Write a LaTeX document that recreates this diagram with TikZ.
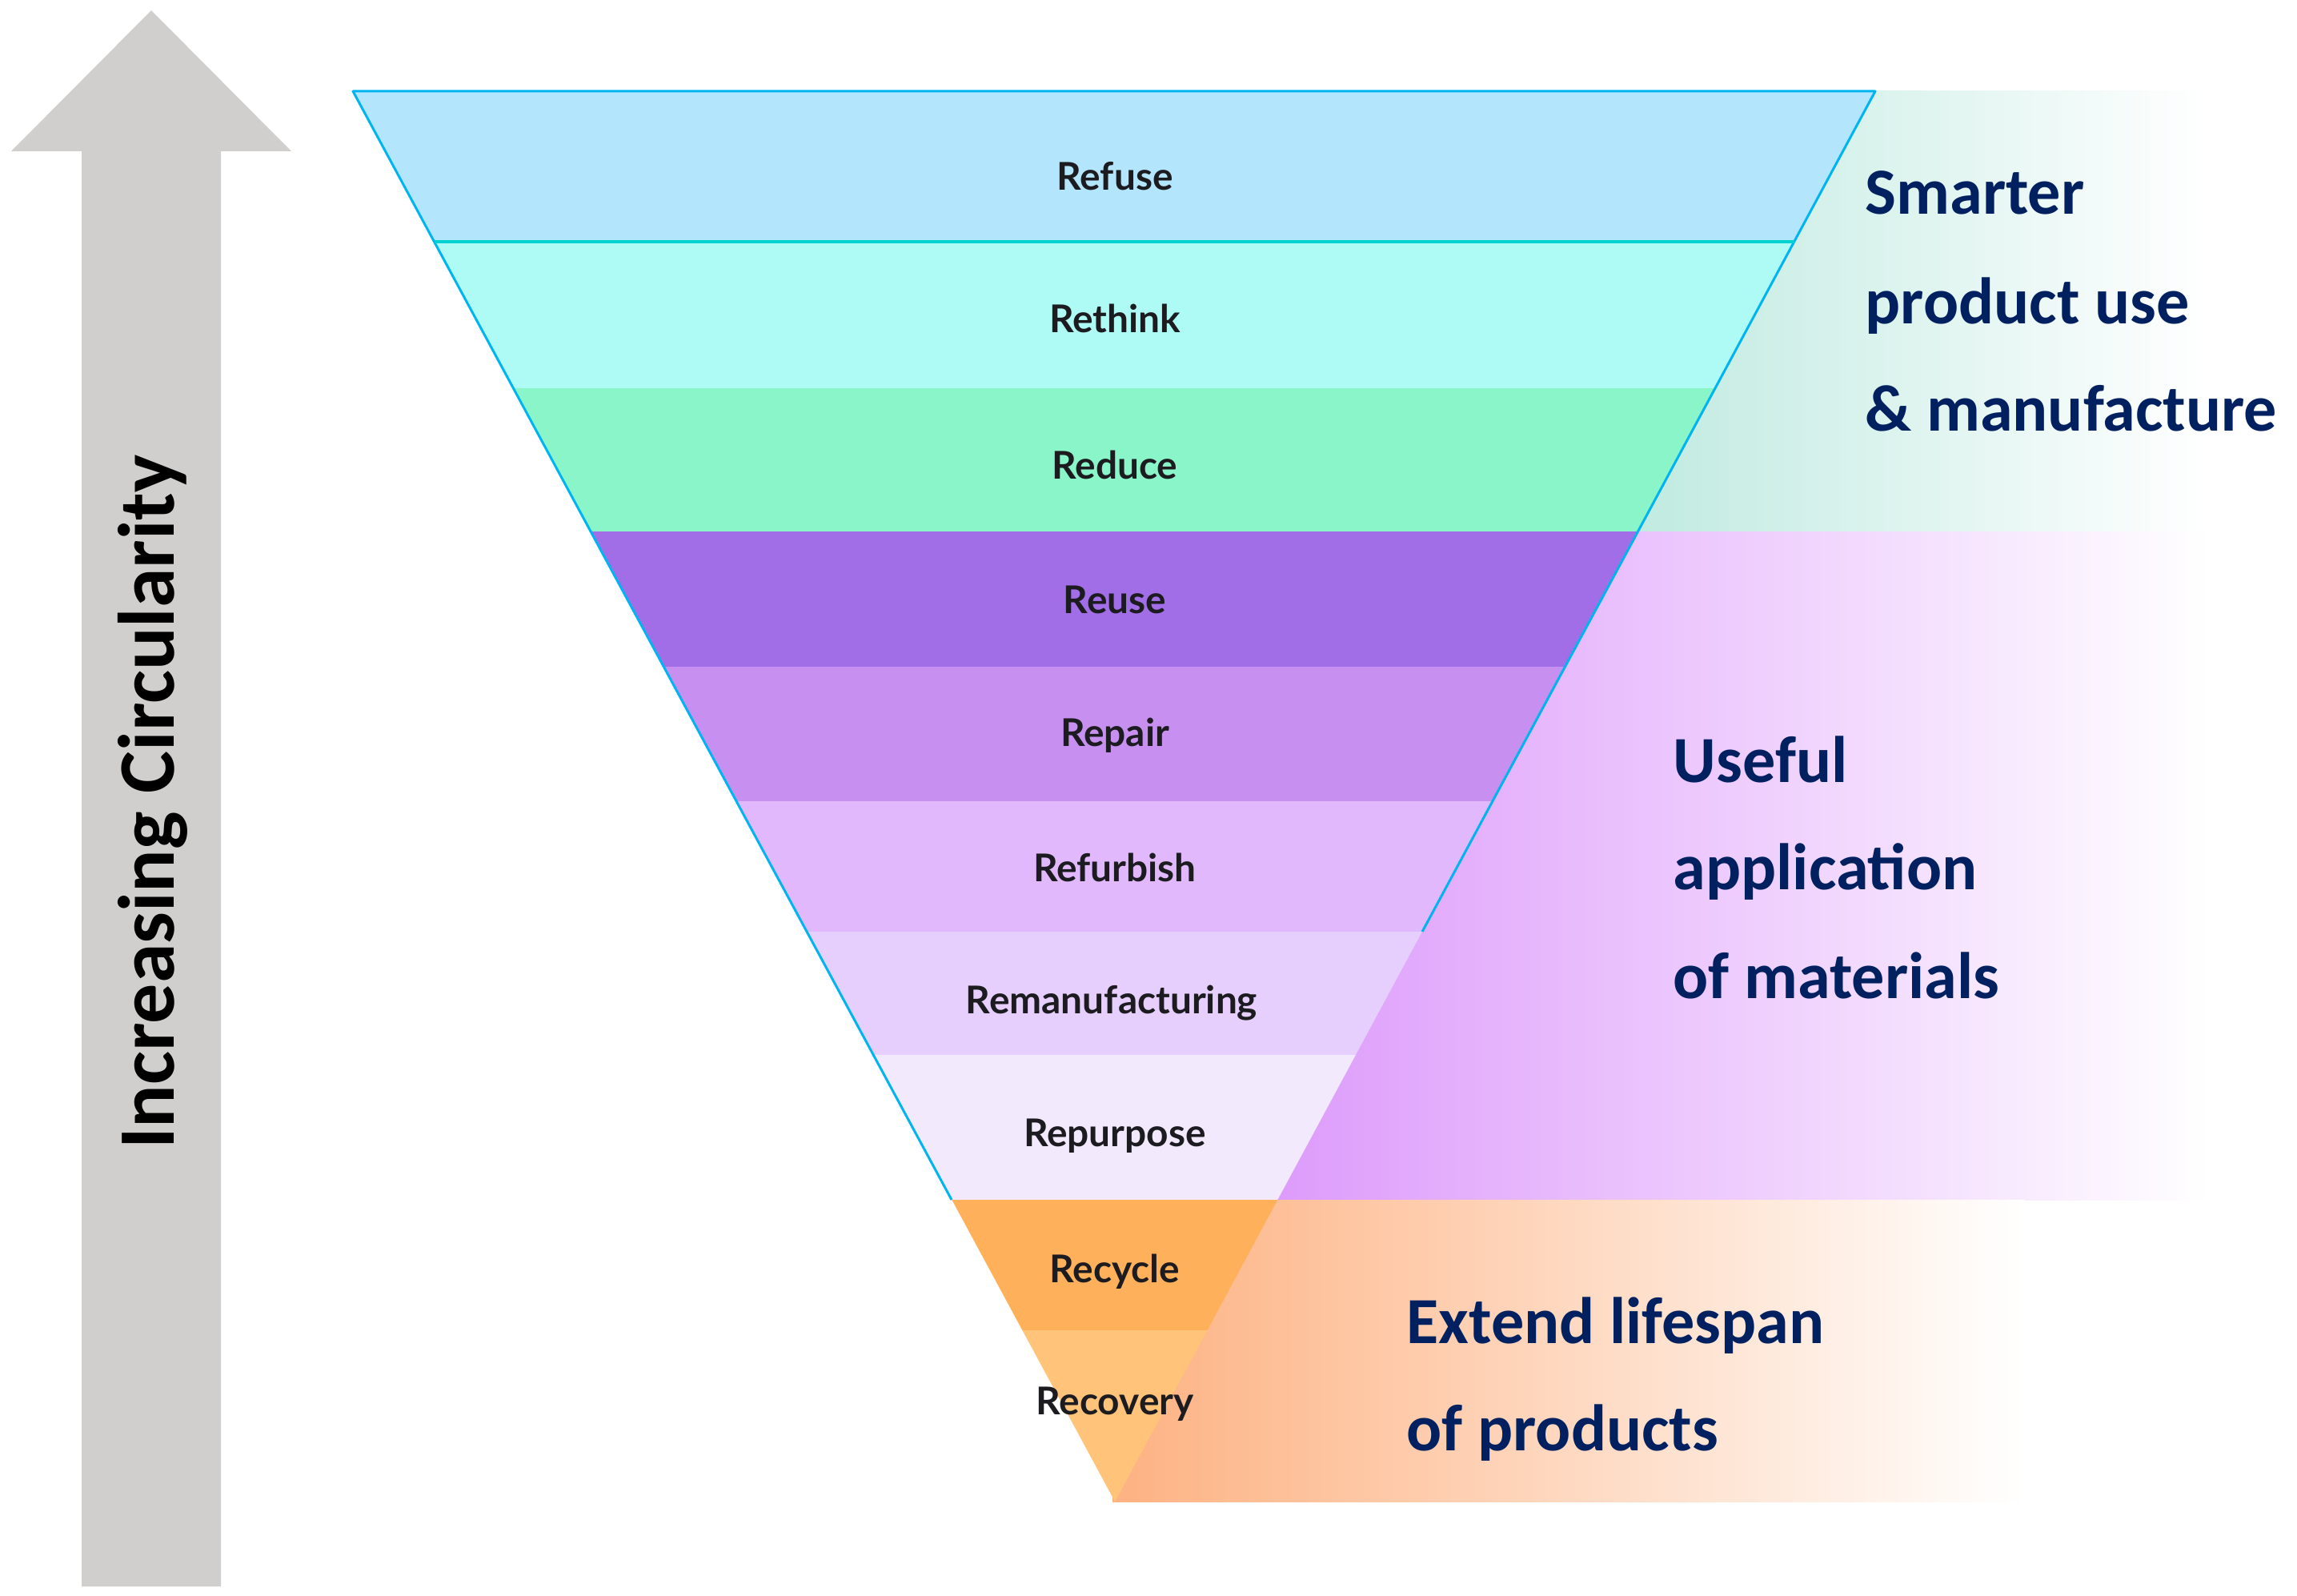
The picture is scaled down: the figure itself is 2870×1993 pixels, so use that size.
\documentclass[tikz,border=0pt]{standalone}
\usepackage{fontspec}
\setmainfont{Carlito}
\newfontfamily\labelfont{Lato}
\definecolor{arrowgray}{RGB}{208,207,206}
\definecolor{navy}{RGB}{0,32,96}
\definecolor{lblcol}{RGB}{28,28,32}
\definecolor{cRefuse}{RGB}{179,229,252}
\definecolor{cRethink}{RGB}{174,250,244}
\definecolor{cReduce}{RGB}{138,245,200}
\definecolor{cReuse}{RGB}{162,110,232}
\definecolor{cRepair}{RGB}{199,143,239}
\definecolor{cRefurbish}{RGB}{226,184,253}
\definecolor{cReman}{RGB}{230,206,253}
\definecolor{cRepurpose}{RGB}{243,233,253}
\definecolor{cRecycle}{RGB}{255,176,90}
\definecolor{cRecovery}{RGB}{255,196,122}
\definecolor{tealband}{RGB}{192,234,224}
\definecolor{purpband}{RGB}{221,155,251}
\definecolor{orangeband}{RGB}{253,178,130}
\definecolor{cyanline}{RGB}{0,180,240}
\definecolor{tealline}{RGB}{0,210,210}
\begin{document}
\begin{tikzpicture}[x=0.1mm,y=-0.1mm,
  lbl/.style={font=\labelfont\bfseries\fontsize{13.6}{16}\selectfont, text=lblcol, anchor=base, inner sep=0pt},
  side/.style={font=\bfseries\fontsize{23.4}{28}\selectfont, text=navy, anchor=base west, inner sep=0pt}]
\useasboundingbox (0,0) rectangle (2870,1993);
\fill[white] (0,0) rectangle (2870,1993);
% big arrow
\fill[arrowgray] (189,13) -- (364,189) -- (276,189) -- (276,1982) -- (102,1982) -- (102,189) -- (14,189) -- cycle;
\node[rotate=90, anchor=base, inner sep=0pt, font=\bfseries\fontsize{28.45}{34}\selectfont] (circ) at (217,1002) {Increasing Circularity};
% side bands
\fill[left color=tealband, right color=white] (2040,114) rectangle (2760,664);
\fill[left color=purpband, right color=white] (1590,664) rectangle (2760,1499);
\fill[left color=orangeband, right color=white] (1390,1499) rectangle (2530,1876);
% funnel
\begin{scope}
\clip (441,114) -- (2343,114) -- (1393,1876) -- cycle;
\fill[cRefuse] (400,114) rectangle (2400,302);
\fill[cRethink] (400,302) rectangle (2400,485);
\fill[cReduce] (400,485) rectangle (2400,664);
\fill[cReuse] (400,664) rectangle (2400,833);
\fill[cRepair] (400,833) rectangle (2400,1001);
\fill[cRefurbish] (400,1001) rectangle (2400,1164);
\fill[cReman] (400,1164) rectangle (2400,1318);
\fill[cRepurpose] (400,1318) rectangle (2400,1499);
\fill[cRecycle] (400,1499) rectangle (2400,1662);
\fill[cRecovery] (400,1662) rectangle (2400,1880);
\end{scope}
\draw[cyanline, line width=0.3mm, line join=round] (1189,1499) -- (441,114) -- (2343,114) -- (1777,1164);
\draw[tealline, line width=0.35mm] (543,302) -- (2242,302);
% labels
\node[lbl] (refuse) at (1393,238) {Refuse};
\node[lbl] (rethink) at (1393,415) {Rethink};
\node[lbl] (reduce) at (1393,598) {Reduce};
\node[lbl] (reuse) at (1393,766) {Reuse};
\node[lbl] (repair) at (1393,932) {Repair};
\node[lbl] (refurbish) at (1393,1101) {Refurbish};
\node[lbl] (reman) at (1389,1266) {Remanufacturing};
\node[lbl] (repurpose) at (1393,1432) {Repurpose};
\node[lbl] (recycle) at (1393,1602) {Recycle};
\node[lbl] (recovery) at (1393,1767) {Recovery};
% side texts
\node[side] (s1) at (2330,267) {Smarter};
\node[side] (s2) at (2330,404) {product use};
\node[side] (s3) at (2330,538) {\& manufacture};
\node[side] (u1) at (2090,977) {Useful};
\node[side] (u2) at (2090,1111) {application};
\node[side] (u3) at (2090,1247) {of materials};
\node[side] (e1) at (1757,1678) {Extend lifespan};
\node[side] (e2) at (1757,1812) {of products};
\end{tikzpicture}
\end{document}
